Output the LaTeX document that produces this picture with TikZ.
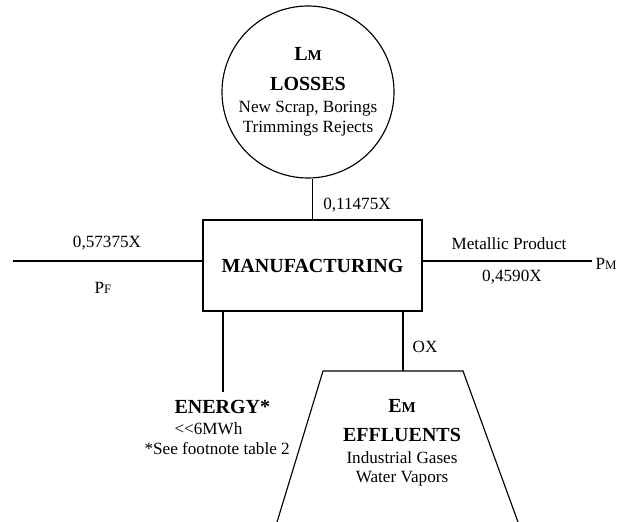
\documentclass[tikz,border=0pt]{standalone}
\usepackage{fontspec}
\setmainfont{Liberation Serif}

% capital followed by a smaller capital (L_M, P_F, ...)
\newcommand{\twocap}[3]{#1{\fontsize{#3}{#3}\selectfont #2}}

\tikzset{
  heading/.style={font=\fontsize{14}{14}\selectfont\bfseries},
  flowtag/.style={inner sep=1pt},
}

\begin{document}
\begin{tikzpicture}[x=0.7pt, y=-0.7pt, font=\fontsize{12}{14}\selectfont, line width=0.8pt]
  \useasboundingbox (0,0) rectangle (623,522);
  % Process block and losses circle
  \node[draw, minimum width=153.3pt, minimum height=63.7pt, inner sep=0, heading] (mfg) at (312.5,265.5) {MANUFACTURING};
  \node[draw, circle, minimum size=120.4pt, inner sep=0, align=center] (loss) at (308,92)
    {{\fontsize{14}{14}\selectfont\bfseries\twocap{L}{M}{10.5}}\\[7pt]
     {\fontsize{14}{14}\selectfont\bfseries LOSSES}\\[1.4pt]
     New Scrap, Borings\\ Trimmings Rejects};
  \draw (loss.south -| mfg.north) -- (mfg.north);
  \node[flowtag] (losstag) at (357,205) {0,11475X};
  % Feed in from the left
  \coordinate (pfend) at (13,261);
  \draw (pfend) -- (pfend -| mfg.west);
  \node[flowtag] (feedtag) at (107,243) {0,57375X};
  \node[flowtag] (pf) at (103,288) {\twocap{P}{F}{9}};
  % Product out to the right
  \coordinate (pmend) at (592,261);
  \draw (mfg.east |- pmend) -- (pmend);
  \node[flowtag] (prodtag) at (509,244) {Metallic Product};
  \node[flowtag] (pm) at (606,264) {\twocap{P}{M}{9}};
  \node[flowtag] (prodval) at (512,277) {0,4590X};
  % Energy
  \coordinate (enfoot) at (223,392);
  \draw (mfg.south -| enfoot) -- (enfoot);
  \node[anchor=north west, inner sep=0, align=left] (energy) at (144,400)
    {\hspace*{21pt}{\fontsize{14}{14}\selectfont\bfseries ENERGY*}\\[0.7pt]
     \hspace*{21pt}{<}{<}6MWh\\ *See footnote table 2};
  % Effluents (trapezoid runs off the bottom edge)
  \coordinate (efftl) at (323,371);
  \coordinate (efftr) at (463,371);
  \coordinate (oxfoot) at (403,371);
  \draw (274.6,530) -- (efftl) -- (efftr) -- (520.9,530);
  \draw (mfg.south -| oxfoot) -- (oxfoot);
  \node[flowtag] (oxtag) at (425,347) {OX};
  \node[inner sep=0, align=center] (effl) at (402,443)
    {{\fontsize{14}{14}\selectfont\bfseries\twocap{E}{M}{10.5}}\\[6pt]
     {\fontsize{14}{14}\selectfont\bfseries EFFLUENTS}\\[1.4pt]
     Industrial Gases\\[-0.7pt] Water Vapors};
\end{tikzpicture}
\end{document}
